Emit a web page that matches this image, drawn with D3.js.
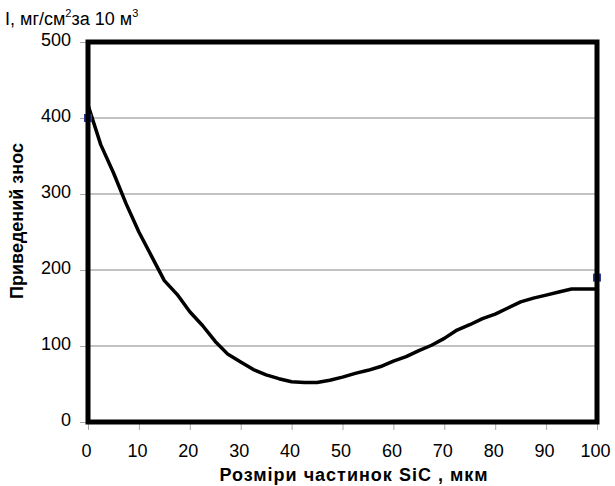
<!DOCTYPE html>
<html><head><meta charset="utf-8">
<script src="https://cdn.jsdelivr.net/npm/d3@7"></script>
<style>body{margin:0;background:#fff}svg{display:block}text{font-family:"Liberation Sans",Arial,sans-serif}</style>
</head><body>
<svg id="c" width="615" height="486"></svg>
<script>
const curveX = [0,2.5,5,7.5,10,12.5,15,17.5,20,22.5,25,27.5,30,32.5,35,37.5,40,42.5,45,47.5,50,52.5,55,57.5,60,62.5,65,67.5,70,72.5,75,77.5,80,82.5,85,87.5,90,92.5,95,97.5,100];
const curveY = [417,365,328,287,250,218,186,168,145,127,106,89,79,69,62,57,53,52,52,55,59,64,68,73,80,86,94,101,110,121,128,136,142,150,158,163,167,171,175,175,175];
const pointX = [0,100];
const pointY = [400,190];
const xTicks = [0,10,20,30,40,50,60,70,80,90,100];
const yTicks = [0,100,200,300,400,500];

const svg = d3.select("#c");
const L=88,R=597,T=42,B=422;
const x = d3.scaleLinear().domain([0,100]).range([L,R]);
const y = d3.scaleLinear().domain([0,500]).range([B,T]);

// gridlines
svg.append("g").selectAll("line").data(yTicks.filter(d=>d>0&&d<500)).join("line")
  .attr("x1",L).attr("x2",R).attr("y1",d=>y(d)).attr("y2",d=>y(d))
  .attr("stroke","#888").attr("stroke-width",1.2);

// axes
const ya = svg.append("g").attr("transform",`translate(${L},0)`)
  .call(d3.axisLeft(y).tickValues(yTicks).tickSize(8).tickPadding(9));
const xa = svg.append("g").attr("transform",`translate(0,${B})`)
  .call(d3.axisBottom(x).tickValues(xTicks).tickSize(8).tickPadding(14));
[ya,xa].forEach(g=>{
  g.select(".domain").remove();
  g.selectAll(".tick line").attr("stroke","#aaa").attr("stroke-width",1);
  g.selectAll("text").attr("font-size",18).attr("fill","#000").attr("font-family","Liberation Sans, Arial, sans-serif");
});
ya.selectAll("text").attr("dy","0.2em");
xa.selectAll("text").attr("dx","-2");

// curve
const line = d3.line().x((d,i)=>x(curveX[i])).y(d=>y(d));
svg.append("path").datum(curveY).attr("d",line).attr("fill","none")
  .attr("stroke","#000").attr("stroke-width",3.5).attr("stroke-linejoin","round");

// points
svg.append("g").selectAll("rect").data(pointY).join("rect")
  .attr("x",(d,i)=>x(pointX[i])-4).attr("y",d=>y(d)-4).attr("width",8).attr("height",8)
  .attr("fill","#2b3a9c");

// frame
svg.append("rect").attr("x",L).attr("y",T).attr("width",R-L).attr("height",B-T)
  .attr("fill","none").attr("stroke","#000").attr("stroke-width",5);

// labels
const topLabel = svg.append("text").attr("x",5).attr("y",25).attr("font-size",18);
topLabel.append("tspan").text("I, мг/см");
topLabel.append("tspan").attr("font-size",11).attr("dy",-8).text("2");
topLabel.append("tspan").attr("dy",8).text("за 10 м");
topLabel.append("tspan").attr("font-size",11).attr("dy",-8).text("3");

svg.append("text").attr("x",354).attr("y",481).attr("text-anchor","middle")
  .attr("font-size",18).attr("font-weight","bold").attr("letter-spacing",1).text("Розміри частинок SiC , мкм");
svg.append("text").attr("transform","translate(23,221) rotate(-90)").attr("text-anchor","middle")
  .attr("font-size",18).attr("font-weight","bold").text("Приведений знос");
</script>
</body></html>
